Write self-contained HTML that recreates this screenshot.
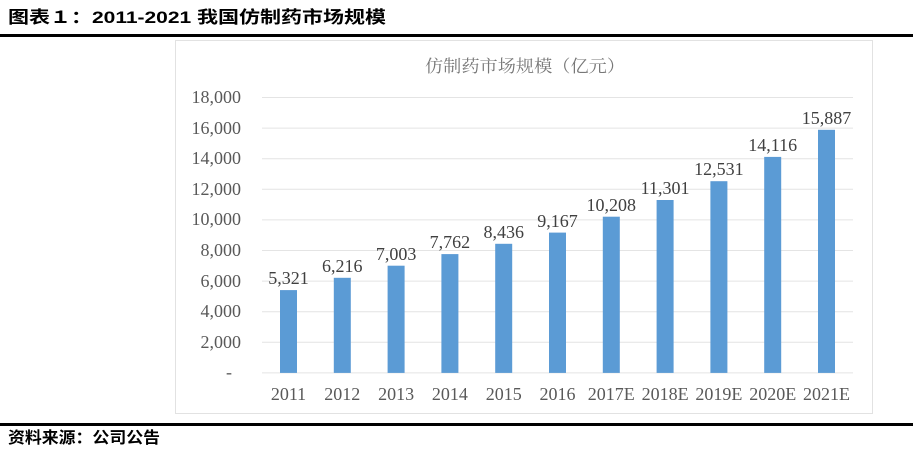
<!DOCTYPE html>
<html><head><meta charset="utf-8"><style>
html,body{margin:0;padding:0;background:#fff;}
body{width:913px;height:450px;overflow:hidden;}
</style></head><body>
<svg width="913" height="450" xmlns="http://www.w3.org/2000/svg">
<text x="8" y="23" textLength="378" lengthAdjust="spacingAndGlyphs" font-family="'Liberation Sans','Noto Sans CJK SC',sans-serif" font-size="17" font-weight="bold" fill="#000">图表１：2011-2021 我国仿制药市场规模</text>
<rect x="0" y="34" width="913" height="3" fill="#000"/>
<rect x="175.5" y="40.5" width="697" height="373" fill="#fff" stroke="#e2e2e2" stroke-width="1"/>
<text x="425" y="72" textLength="200" lengthAdjust="spacingAndGlyphs" font-family="'Liberation Serif','Noto Serif CJK SC',serif" font-size="17" fill="#777">仿制药市场规模（亿元）</text>
<g stroke="#e4e4e4" stroke-width="1">
<line x1="262" x2="853" y1="97.5" y2="97.5"/>
<line x1="262" x2="853" y1="128.1" y2="128.1"/>
<line x1="262" x2="853" y1="158.7" y2="158.7"/>
<line x1="262" x2="853" y1="189.3" y2="189.3"/>
<line x1="262" x2="853" y1="219.9" y2="219.9"/>
<line x1="262" x2="853" y1="250.5" y2="250.5"/>
<line x1="262" x2="853" y1="281.1" y2="281.1"/>
<line x1="262" x2="853" y1="311.7" y2="311.7"/>
<line x1="262" x2="853" y1="342.3" y2="342.3"/>
<line x1="262" x2="853" y1="372.9" y2="372.9"/>
</g>
<g font-family="'Liberation Serif',serif" font-size="18" fill="#595959" text-anchor="end">
<text x="241" y="103">18,000</text>
<text x="241" y="134">16,000</text>
<text x="241" y="164">14,000</text>
<text x="241" y="195">12,000</text>
<text x="241" y="225">10,000</text>
<text x="241" y="256">8,000</text>
<text x="241" y="287">6,000</text>
<text x="241" y="317">4,000</text>
<text x="241" y="348">2,000</text>
<text x="232" y="378">-</text>
</g>
<g fill="#5b9bd5">
<rect x="280" y="290.1" width="17" height="82.8"/>
<rect x="333.8" y="277.8" width="17" height="95.1"/>
<rect x="387.6" y="265.7" width="17" height="107.2"/>
<rect x="441.4" y="254.1" width="17" height="118.8"/>
<rect x="495.2" y="243.8" width="17" height="129.1"/>
<rect x="549" y="232.6" width="17" height="140.3"/>
<rect x="602.8" y="216.7" width="17" height="156.2"/>
<rect x="656.6" y="200.0" width="17" height="172.9"/>
<rect x="710.4" y="181.2" width="17" height="191.7"/>
<rect x="764.2" y="156.9" width="17" height="216.0"/>
<rect x="818" y="129.8" width="17" height="243.1"/>
</g>
<g font-family="'Liberation Serif',serif" font-size="18" fill="#404040" text-anchor="middle">
<text x="288.5" y="284">5,321</text>
<text x="342.3" y="272">6,216</text>
<text x="396.1" y="260">7,003</text>
<text x="449.9" y="248">7,762</text>
<text x="503.7" y="238">8,436</text>
<text x="557.5" y="227">9,167</text>
<text x="611.3" y="211">10,208</text>
<text x="665.1" y="194">11,301</text>
<text x="718.9" y="175">12,531</text>
<text x="772.7" y="151">14,116</text>
<text x="826.5" y="124">15,887</text>
</g>
<g font-family="'Liberation Serif',serif" font-size="18" fill="#595959" text-anchor="middle">
<text x="288.5" y="400">2011</text>
<text x="342.3" y="400">2012</text>
<text x="396.1" y="400">2013</text>
<text x="449.9" y="400">2014</text>
<text x="503.7" y="400">2015</text>
<text x="557.5" y="400">2016</text>
<text x="611.3" y="400">2017E</text>
<text x="665.1" y="400">2018E</text>
<text x="718.9" y="400">2019E</text>
<text x="772.7" y="400">2020E</text>
<text x="826.5" y="400">2021E</text>
</g>
<rect x="0" y="423" width="913" height="3" fill="#000"/>
<text x="8" y="443" textLength="152" lengthAdjust="spacingAndGlyphs" font-family="'Liberation Sans','Noto Sans CJK SC',sans-serif" font-size="16" font-weight="bold" fill="#000">资料来源：公司公告</text>
</svg>
</body></html>
